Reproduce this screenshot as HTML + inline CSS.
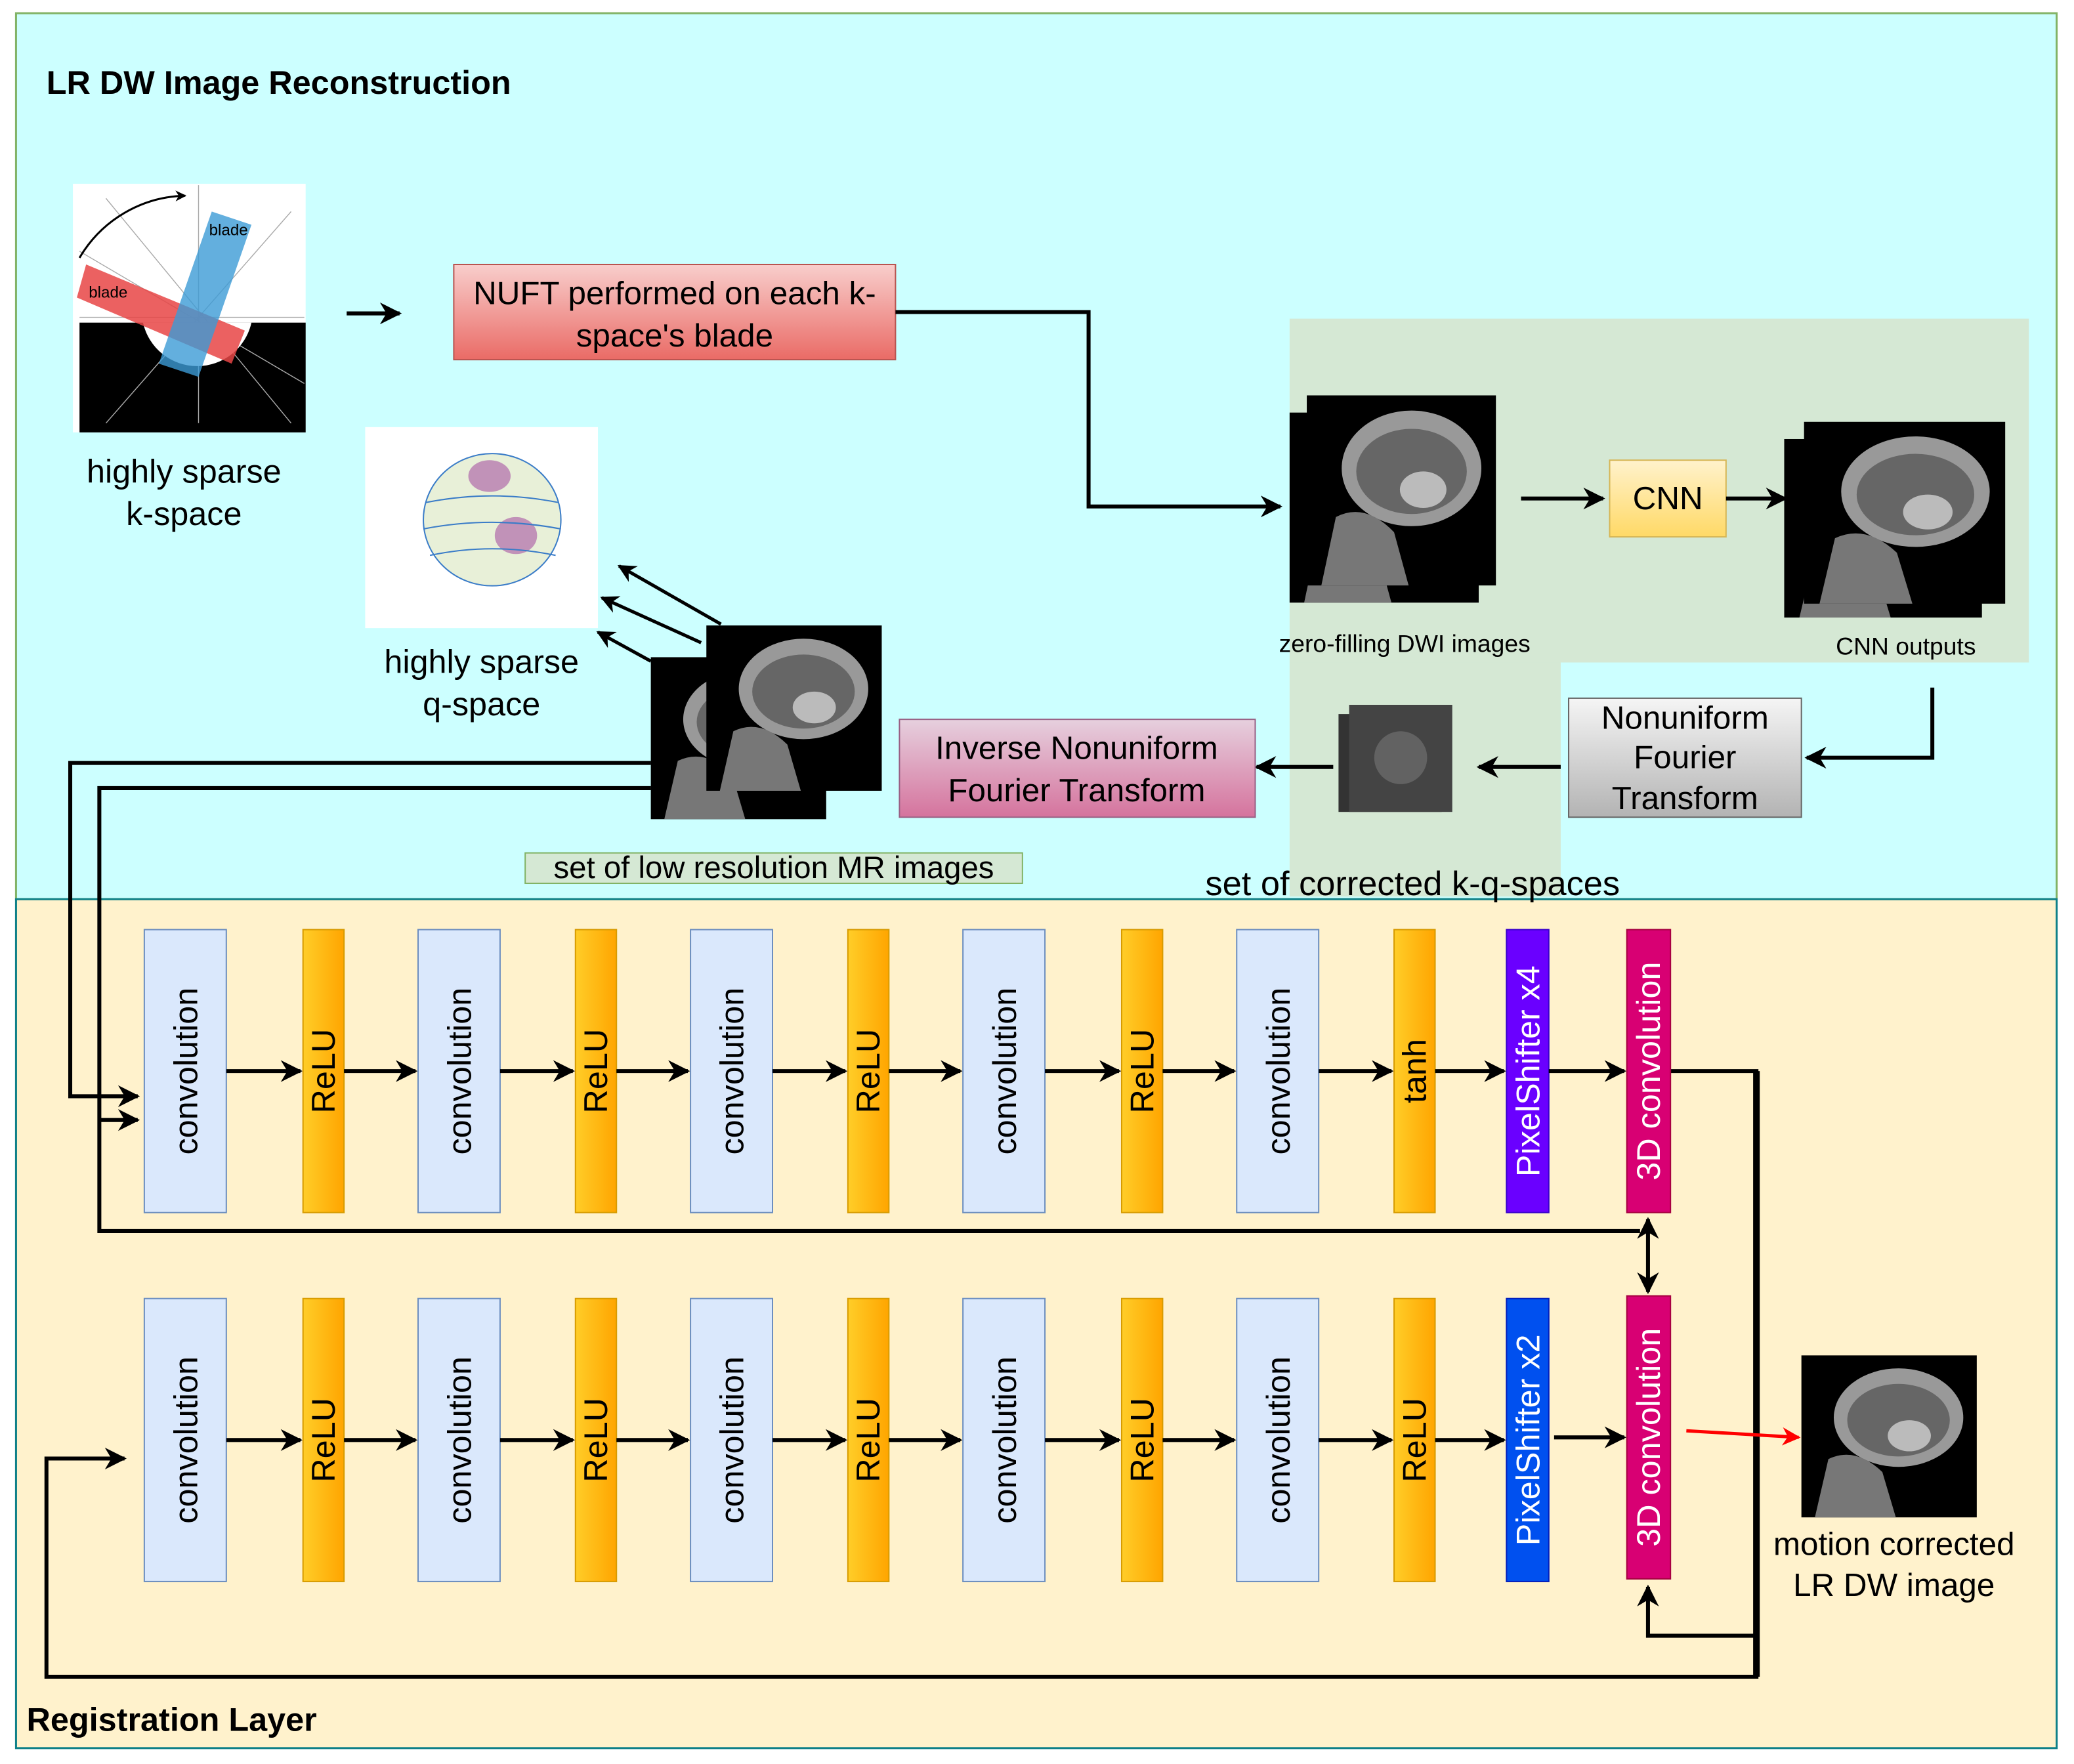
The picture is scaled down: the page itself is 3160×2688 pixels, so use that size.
<!DOCTYPE html>
<html><head><meta charset="utf-8"><style>html,body{margin:0;padding:0;background:#fff}svg{display:block}text{font-family:"Liberation Sans",sans-serif}</style></head><body>
<svg width="3160" height="2688" viewBox="0 0 1568 1334" xmlns="http://www.w3.org/2000/svg">
<defs>
<marker id="a" viewBox="0 0 10 10" refX="9" refY="5" markerWidth="5.5" markerHeight="5.5" orient="auto-start-reverse"><path d="M0,0 L10,5 L0,10 L3,5z" fill="#000"/></marker>
<marker id="ar" viewBox="0 0 10 10" refX="9" refY="5" markerWidth="5.5" markerHeight="5.5" orient="auto"><path d="M0,0 L10,5 L0,10 L3,5z" fill="#f00"/></marker>
<linearGradient id="gr" x1="0" y1="0" x2="0" y2="1"><stop offset="0" stop-color="#f8cecc"/><stop offset="1" stop-color="#ea6b66"/></linearGradient>
<linearGradient id="gy" x1="0" y1="0" x2="0" y2="1"><stop offset="0" stop-color="#fff2cc"/><stop offset="1" stop-color="#ffd966"/></linearGradient>
<linearGradient id="gg" x1="0" y1="0" x2="0" y2="1"><stop offset="0" stop-color="#f5f5f5"/><stop offset="1" stop-color="#b3b3b3"/></linearGradient>
<linearGradient id="gp" x1="0" y1="0" x2="0" y2="1"><stop offset="0" stop-color="#e6d0de"/><stop offset="1" stop-color="#d5739d"/></linearGradient>
<linearGradient id="go" x1="0" y1="0" x2="1" y2="0"><stop offset="0" stop-color="#ffcd28"/><stop offset="1" stop-color="#ffa500"/></linearGradient>
<g id="brain"><rect x="0" y="0" width="130" height="125" fill="#000"/><ellipse cx="72" cy="48" rx="48" ry="38" fill="#999"/><ellipse cx="72" cy="50" rx="38" ry="28" fill="#666"/><ellipse cx="80" cy="62" rx="16" ry="12" fill="#bbb"/><path d="M20,80 Q40,70 60,90 L70,125 L10,125z" fill="#777"/></g>
</defs>
<rect x="12" y="10" width="1543" height="670" fill="#ccffff" stroke="#82b366" stroke-width="1.5"/>
<rect x="12" y="680" width="1543" height="642" fill="#fff2cc" stroke="#0e8088" stroke-width="1.5"/>
<text x="35" y="71" font-size="25" font-weight="bold">LR DW Image Reconstruction</text>
<text x="20" y="1309" font-size="25" font-weight="bold">Registration Layer</text>
<rect x="55" y="139" width="176" height="188" fill="#fff"/>
<rect x="60" y="244" width="171" height="83" fill="#000"/>
<g stroke="#aaa" stroke-width="0.7"><line x1="60" y1="190" x2="230" y2="290"/><line x1="80" y1="150" x2="220" y2="320"/><line x1="150" y1="140" x2="150" y2="320"/><line x1="60" y1="240" x2="230" y2="240"/><line x1="220" y1="160" x2="80" y2="320"/></g>
<path d="M108,244 A42,42 0 0 0 190,244z" fill="#fff"/>
<polygon points="65,200 185,250 175,275 58,225" fill="#e84545" opacity="0.85"/>
<polygon points="160,160 190,170 150,285 120,275" fill="#3c9bd6" opacity="0.8"/>
<text x="67" y="225" font-size="12">blade</text><text x="158" y="178" font-size="12">blade</text>
<path d="M60,195 A95,95 0 0 1 140,148" fill="none" stroke="#000" stroke-width="1.5" marker-end="url(#a)"/>
<text x="139" y="365" font-size="25" text-anchor="middle">highly sparse</text><text x="139" y="397" font-size="25" text-anchor="middle">k-space</text>
<line x1="262" y1="237" x2="302" y2="237" stroke="#000" stroke-width="3" marker-end="url(#a)"/>
<rect x="343" y="200" width="334" height="72" fill="url(#gr)" stroke="#b85450"/>
<text x="510" y="230" font-size="24.5" text-anchor="middle">NUFT performed on each k-</text><text x="510" y="262" font-size="24.5" text-anchor="middle">space's blade</text>
<polyline points="677,236 823,236 823,383 968,383" fill="none" stroke="#000" stroke-width="3" marker-end="url(#a)"/>
<rect x="975" y="241" width="559" height="260" fill="#d5e8d4"/>
<rect x="975" y="501" width="205" height="177" fill="#d5e8d4"/>
<use href="#brain" transform="translate(975,312) scale(1.1,1.15)"/>
<use href="#brain" transform="translate(988,299) scale(1.1,1.15)"/>
<text x="1062" y="493" font-size="18.5" text-anchor="middle">zero-filling DWI images</text>
<line x1="1150" y1="377" x2="1212" y2="377" stroke="#000" stroke-width="3" marker-end="url(#a)"/>
<rect x="1217" y="348" width="88" height="58" fill="url(#gy)" stroke="#d6b656"/>
<text x="1261" y="385" font-size="24.5" text-anchor="middle">CNN</text>
<line x1="1305" y1="377" x2="1350" y2="377" stroke="#000" stroke-width="3" marker-end="url(#a)"/>
<use href="#brain" transform="translate(1349,332) scale(1.15,1.08)"/>
<use href="#brain" transform="translate(1364,319) scale(1.17,1.1)"/>
<text x="1441" y="495" font-size="18.5" text-anchor="middle">CNN outputs</text>
<polyline points="1461,520 1461,573 1366,573" fill="none" stroke="#000" stroke-width="3" marker-end="url(#a)"/>
<rect x="1186" y="528" width="176" height="90" fill="url(#gg)" stroke="#666"/>
<text x="1274" y="551" font-size="24.5" text-anchor="middle">Nonuniform</text><text x="1274" y="581" font-size="24.5" text-anchor="middle">Fourier</text><text x="1274" y="612" font-size="24.5" text-anchor="middle">Transform</text>
<line x1="1180" y1="580" x2="1118" y2="580" stroke="#000" stroke-width="3" marker-end="url(#a)"/>
<rect x="1012" y="540" width="78" height="74" fill="#333"/><rect x="1020" y="533" width="78" height="81" fill="#444"/><circle cx="1059" cy="573" r="20" fill="#777" opacity="0.6"/>
<line x1="1008" y1="580" x2="950" y2="580" stroke="#000" stroke-width="3" marker-end="url(#a)"/>
<rect x="680" y="544" width="269" height="74" fill="url(#gp)" stroke="#996185"/>
<text x="814" y="574" font-size="24.5" text-anchor="middle">Inverse Nonuniform</text><text x="814" y="606" font-size="24.5" text-anchor="middle">Fourier Transform</text>
<rect x="276" y="323" width="176" height="152" fill="#fff"/>
<ellipse cx="372" cy="393" rx="52" ry="50" fill="#e8f0d8" stroke="#3a7cc8"/>
<ellipse cx="370" cy="360" rx="16" ry="12" fill="#b67ab0" opacity="0.8"/><ellipse cx="390" cy="405" rx="16" ry="14" fill="#b67ab0" opacity="0.8"/>
<g stroke="#3a7cc8" fill="none"><path d="M322,380 Q372,370 422,380"/><path d="M320,400 Q372,390 424,400"/><path d="M325,420 Q372,410 420,420"/></g>
<text x="364" y="509" font-size="25" text-anchor="middle">highly sparse</text><text x="364" y="541" font-size="25" text-anchor="middle">q-space</text>
<g stroke="#000" stroke-width="2.5" marker-end="url(#a)"><line x1="545" y1="472" x2="468" y2="428"/><line x1="530" y1="486" x2="455" y2="452"/><line x1="492" y1="500" x2="452" y2="478"/></g>
<use href="#brain" transform="translate(492,497) scale(1.02,0.98)"/>
<use href="#brain" transform="translate(534,473) scale(1.02,1)"/>
<rect x="397" y="645" width="376" height="23" fill="#d5e8d4" stroke="#82b366"/>
<text x="585" y="664" font-size="23.5" text-anchor="middle">set of low resolution MR images</text>
<text x="1068" y="677" font-size="26" text-anchor="middle">set of corrected k-q-spaces</text>
<g fill="none" stroke="#000" stroke-width="3">
<polyline points="492,577 53,577 53,829 104,829" marker-end="url(#a)"/>
<polyline points="492,596 75,596 75,931 1240,931" />
<polyline points="75,847 104,847" marker-end="url(#a)"/>
<line x1="1246" y1="922" x2="1246" y2="977" marker-start="url(#a)" marker-end="url(#a)"/>
<polyline points="1263,810 1328,810 1328,1268 35,1268 35,1103 94,1103" marker-end="url(#a)"/>
<polyline points="1328,1237 1246,1237 1246,1200" marker-end="url(#a)"/>
</g>
<line x1="1328" y1="810" x2="1328" y2="1268" stroke="#000" stroke-width="5"/>
<line x1="1275" y1="1082" x2="1360" y2="1087" stroke="#f00" stroke-width="2.5" marker-end="url(#ar)"/>
<use href="#brain" transform="translate(1362,1025) scale(1.02,0.98)"/>
<text x="1432" y="1176" font-size="24.5" text-anchor="middle">motion corrected</text><text x="1432" y="1207" font-size="24.5" text-anchor="middle">LR DW image</text>
<g>
<g fill="#dae8fc" stroke="#6c8ebf"><rect x="109" y="703" width="62" height="214"/><rect x="316" y="703" width="62" height="214"/><rect x="522" y="703" width="62" height="214"/><rect x="728" y="703" width="62" height="214"/><rect x="935" y="703" width="62" height="214"/></g>
<g fill="url(#go)" stroke="#d79b00"><rect x="229" y="703" width="31" height="214"/><rect x="435" y="703" width="31" height="214"/><rect x="641" y="703" width="31" height="214"/><rect x="848" y="703" width="31" height="214"/><rect x="1054" y="703" width="31" height="214"/></g>
<rect x="1139" y="703" width="32" height="214" fill="#6a00ff" stroke="#3700cc"/>
<rect x="1230" y="703" width="33" height="214" fill="#d80073" stroke="#a50040"/>
<g font-size="25" text-anchor="middle">
<text transform="translate(149,810) rotate(-90)">convolution</text><text transform="translate(356,810) rotate(-90)">convolution</text><text transform="translate(562,810) rotate(-90)">convolution</text><text transform="translate(768,810) rotate(-90)">convolution</text><text transform="translate(975,810) rotate(-90)">convolution</text>
<text transform="translate(253,810) rotate(-90)">ReLU</text><text transform="translate(459,810) rotate(-90)">ReLU</text><text transform="translate(665,810) rotate(-90)">ReLU</text><text transform="translate(872,810) rotate(-90)">ReLU</text><text transform="translate(1078,810) rotate(-90)">tanh</text>
<text transform="translate(1164,810) rotate(-90)" fill="#fff">PixelShifter x4</text><text transform="translate(1255,810) rotate(-90)" fill="#fff">3D convolution</text>
</g>
<g stroke="#000" stroke-width="3" marker-end="url(#a)"><line x1="171" y1="810" x2="227" y2="810"/><line x1="260" y1="810" x2="314" y2="810"/><line x1="378" y1="810" x2="433" y2="810"/><line x1="466" y1="810" x2="520" y2="810"/><line x1="584" y1="810" x2="639" y2="810"/><line x1="672" y1="810" x2="726" y2="810"/><line x1="790" y1="810" x2="846" y2="810"/><line x1="879" y1="810" x2="933" y2="810"/><line x1="997" y1="810" x2="1052" y2="810"/><line x1="1085" y1="810" x2="1137" y2="810"/><line x1="1171" y1="810" x2="1228" y2="810"/></g>
</g>
<g transform="translate(0,279)">
<g fill="#dae8fc" stroke="#6c8ebf"><rect x="109" y="703" width="62" height="214"/><rect x="316" y="703" width="62" height="214"/><rect x="522" y="703" width="62" height="214"/><rect x="728" y="703" width="62" height="214"/><rect x="935" y="703" width="62" height="214"/></g>
<g fill="url(#go)" stroke="#d79b00"><rect x="229" y="703" width="31" height="214"/><rect x="435" y="703" width="31" height="214"/><rect x="641" y="703" width="31" height="214"/><rect x="848" y="703" width="31" height="214"/><rect x="1054" y="703" width="31" height="214"/></g>
<rect x="1139" y="703" width="32" height="214" fill="#0050ef" stroke="#001dbc"/>
<rect x="1230" y="701" width="33" height="214" fill="#d80073" stroke="#a50040"/>
<g font-size="25" text-anchor="middle">
<text transform="translate(149,810) rotate(-90)">convolution</text><text transform="translate(356,810) rotate(-90)">convolution</text><text transform="translate(562,810) rotate(-90)">convolution</text><text transform="translate(768,810) rotate(-90)">convolution</text><text transform="translate(975,810) rotate(-90)">convolution</text>
<text transform="translate(253,810) rotate(-90)">ReLU</text><text transform="translate(459,810) rotate(-90)">ReLU</text><text transform="translate(665,810) rotate(-90)">ReLU</text><text transform="translate(872,810) rotate(-90)">ReLU</text><text transform="translate(1078,810) rotate(-90)">ReLU</text>
<text transform="translate(1164,810) rotate(-90)" fill="#fff">PixelShifter x2</text><text transform="translate(1255,808) rotate(-90)" fill="#fff">3D convolution</text>
</g>
<g stroke="#000" stroke-width="3" marker-end="url(#a)"><line x1="171" y1="810" x2="227" y2="810"/><line x1="260" y1="810" x2="314" y2="810"/><line x1="378" y1="810" x2="433" y2="810"/><line x1="466" y1="810" x2="520" y2="810"/><line x1="584" y1="810" x2="639" y2="810"/><line x1="672" y1="810" x2="726" y2="810"/><line x1="790" y1="810" x2="846" y2="810"/><line x1="879" y1="810" x2="933" y2="810"/><line x1="997" y1="810" x2="1052" y2="810"/><line x1="1085" y1="810" x2="1137" y2="810"/><line x1="1175" y1="808" x2="1228" y2="808"/></g>
</g>
</svg>
</body></html>
